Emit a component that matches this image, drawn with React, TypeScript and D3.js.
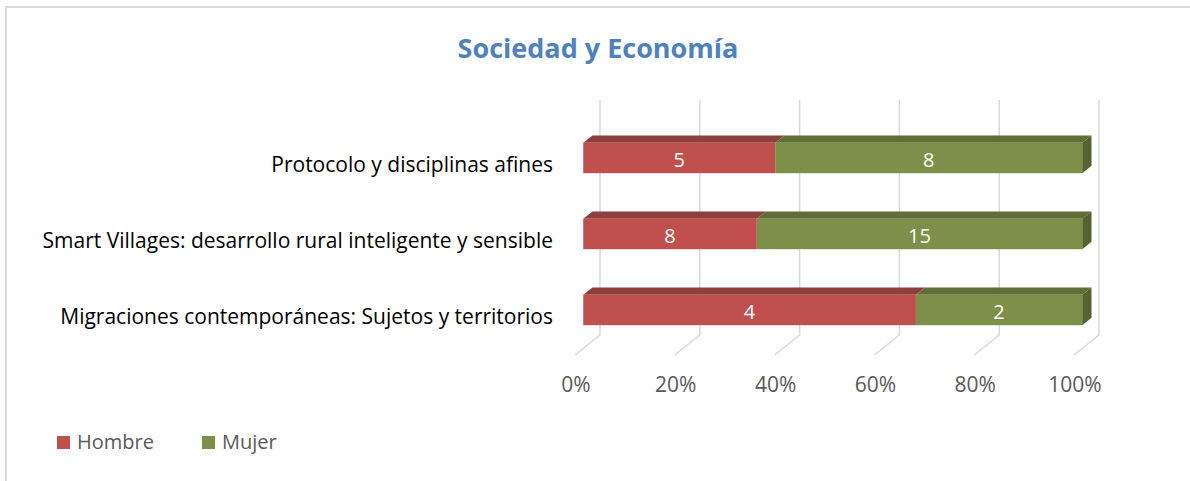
import React from "react";
import * as d3 from "d3";

const categories = [
  "Protocolo y disciplinas afines",
  "Smart Villages: desarrollo rural inteligente y sensible",
  "Migraciones contemporáneas: Sujetos y territorios",
];
const hombre = [5, 8, 4];
const mujer = [8, 15, 2];
const seriesNames = ["Hombre", "Mujer"];
const ticks = [0, 0.2, 0.4, 0.6, 0.8, 1];

const FONT = "'Open Sans', sans-serif";
const front = ["#c0504d", "#7e8f49"];
const top = ["#8c3f3d", "#5f6e37"];
const side = ["#8c3f3d", "#56622f"];

const App = () => {
  const svgRef = React.useRef(null);

  React.useEffect(() => {
    const svg = d3.select(svgRef.current);
    svg.selectAll("*").remove();

    // depth of the 3d box
    const DX = 25, DY = 20;
    const wallTop = 100, floorBack = 335;
    const xs = d3.scaleLinear().domain([0, 1]).range([575, 1074]);
    const ys = d3.scaleBand().domain(categories).range([120, 348]).paddingInner(0.6).paddingOuter(0.3);
    const z0 = 0.33, z1 = 0.7;

    // chart border
    svg.append("rect")
      .attr("x", 6).attr("y", 7).attr("width", 1300).attr("height", 600)
      .attr("fill", "#fff").attr("stroke", "#d9d9d9").attr("stroke-width", 2);

    // title
    svg.append("text")
      .attr("x", 598).attr("y", 58)
      .attr("text-anchor", "middle")
      .attr("font-family", FONT).attr("font-weight", "bold").attr("font-size", 27)
      .attr("fill", "#4f81bd")
      .text("Sociedad y Economía");

    // gridlines: back wall + floor
    const grid = svg.append("g").attr("stroke", "#d9d9d9").attr("stroke-width", 1.5).attr("fill", "none");
    ticks.forEach((t) => {
      const bx = xs(t) + DX;
      grid.append("path").attr("d", `M${bx},${wallTop}L${bx},${floorBack}L${xs(t)},${floorBack + DY}`);
    });

    // tick labels
    svg.append("g").selectAll("text").data(ticks).enter().append("text")
      .attr("x", (d) => xs(d) + 1).attr("y", 392)
      .attr("text-anchor", "middle")
      .attr("font-family", FONT).attr("font-size", 21)
      .attr("fill", "#595959")
      .text((d) => d3.format(".0%")(d));

    // bars
    const bars = svg.append("g");
    categories.forEach((c, i) => {
      const total = hombre[i] + mujer[i];
      const vals = [hombre[i], mujer[i]];
      const y0 = ys(c);
      const h = ys.bandwidth();
      const fdx = z0 * DX, bdx = z1 * DX;
      const fdy = z0 * DY, bdy = z1 * DY;
      let acc = 0;
      vals.forEach((v, s) => {
        const a = acc / total, b = (acc + v) / total;
        acc += v;
        const xa = xs(a) + fdx, xb = xs(b) + fdx;
        const ya = y0, yb = y0 + h;
        const dx = bdx - fdx, dy = bdy - fdy;
        // top face
        bars.append("path")
          .attr("d", `M${xa},${ya}L${xa + dx},${ya - dy}L${xb + dx},${ya - dy}L${xb},${ya}Z`)
          .attr("fill", top[s]);
        // front face
        bars.append("rect")
          .attr("x", xa).attr("y", ya).attr("width", xb - xa).attr("height", h)
          .attr("fill", front[s]);
        // right side on last segment
        if (s === vals.length - 1) {
          bars.append("path")
            .attr("d", `M${xb},${ya}L${xb + dx},${ya - dy}L${xb + dx},${yb - dy}L${xb},${yb}Z`)
            .attr("fill", side[s]);
        }
        bars.append("text")
          .attr("x", (xa + xb) / 2).attr("y", ya + h / 2 + 9)
          .attr("text-anchor", "middle")
          .attr("font-family", FONT).attr("font-size", 20)
          .attr("fill", "#fff")
          .text(v);
      });
      // category label
      svg.append("text")
        .attr("x", 553).attr("y", y0 + h / 2 + 14)
        .attr("text-anchor", "end")
        .attr("font-family", FONT).attr("font-size", 21)
        .attr("fill", "#000")
        .text(c);
    });

    // legend
    const leg = svg.append("g");
    const legX = [57, 202];
    seriesNames.forEach((n, s) => {
      leg.append("rect").attr("x", legX[s]).attr("y", 436).attr("width", 13).attr("height", 13).attr("fill", front[s]);
      leg.append("text")
        .attr("x", legX[s] + 20).attr("y", 449)
        .attr("font-family", FONT).attr("font-size", 20)
        .attr("fill", "#595959")
        .text(n);
    });
  }, []);

  return (
    <svg ref={svgRef} width={1190} height={481}
      style={{ position: "absolute", left: 0, top: 0, background: "#fff" }} />
  );
};

export default App;
